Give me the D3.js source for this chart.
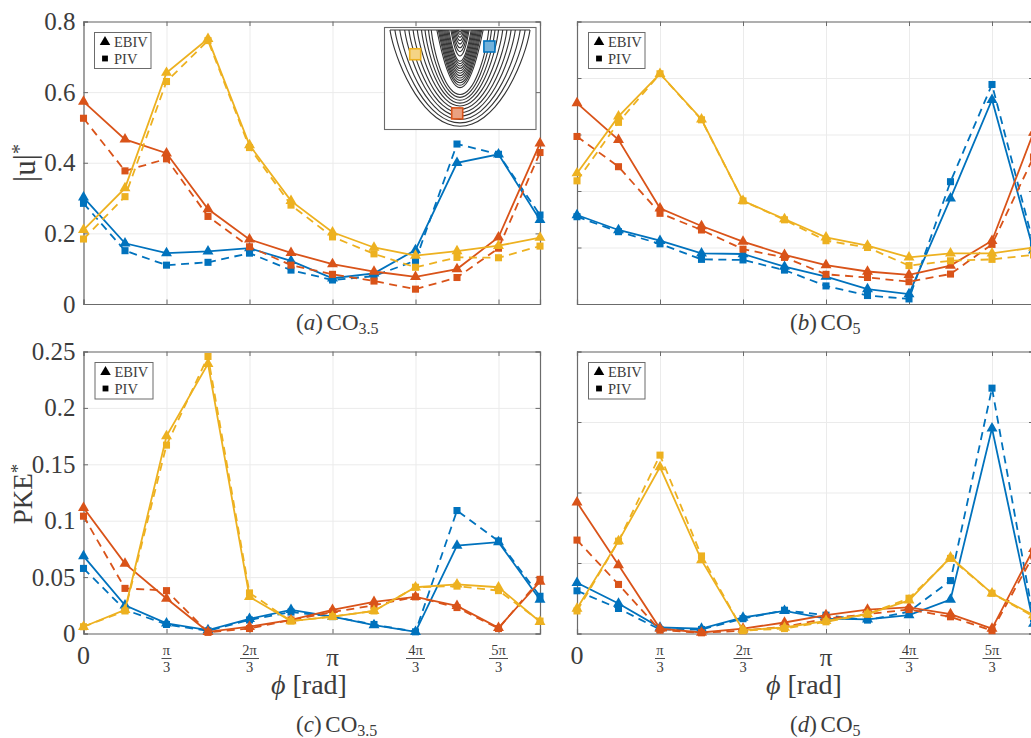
<!DOCTYPE html>
<html>
<head>
<meta charset="utf-8">
<script src="https://cdn.jsdelivr.net/npm/d3@7"></script>
<style>
  html, body { margin: 0; padding: 0; background: #fff; overflow: hidden; }
  svg { display: block; }
  text { font-family: "Liberation Serif", serif; fill: #3c3c3c; }
</style>
</head>
<body>
<svg width="1031" height="738"></svg>
<script>
// Crank angle steps, in units of pi/6
const phiSteps = [0, 1, 2, 3, 4, 5, 6, 7, 8, 9, 10, 11];
const phiTicks = [0, 2, 4, 6, 8, 10];
const phiTickLabels = ["0", "π/3", "2π/3", "π", "4π/3", "5π/3"];

// Panel (a) |u|* CO3.5
const aEbivBlue = [0.302, 0.172, 0.144, 0.149, 0.158, 0.122, 0.073, 0.087, 0.153, 0.400, 0.424, 0.238];
const aEbivRed = [0.573, 0.466, 0.427, 0.269, 0.183, 0.145, 0.113, 0.092, 0.077, 0.099, 0.189, 0.455];
const aEbivYellow = [0.210, 0.328, 0.655, 0.751, 0.450, 0.292, 0.203, 0.160, 0.137, 0.150, 0.165, 0.188];
const aPivBlue = [0.285, 0.151, 0.110, 0.118, 0.144, 0.096, 0.068, 0.079, 0.123, 0.453, 0.424, 0.252];
const aPivRed = [0.526, 0.377, 0.411, 0.248, 0.162, 0.110, 0.084, 0.065, 0.042, 0.075, 0.158, 0.429];
const aPivYellow = [0.184, 0.304, 0.630, 0.746, 0.443, 0.280, 0.190, 0.142, 0.104, 0.132, 0.131, 0.164];

// Panel (b) |u|* CO5
const bEbivBlue = [0.315, 0.262, 0.224, 0.179, 0.177, 0.132, 0.097, 0.053, 0.035, 0.374, 0.723, 0.190];
const bEbivRed = [0.711, 0.581, 0.339, 0.276, 0.221, 0.174, 0.138, 0.115, 0.103, 0.136, 0.224, 0.607];
const bEbivYellow = [0.463, 0.664, 0.815, 0.654, 0.365, 0.301, 0.236, 0.207, 0.165, 0.179, 0.179, 0.200];
const bPivBlue = [0.309, 0.256, 0.213, 0.158, 0.156, 0.120, 0.064, 0.030, 0.018, 0.433, 0.777, 0.213];
const bPivRed = [0.593, 0.486, 0.321, 0.262, 0.194, 0.165, 0.105, 0.094, 0.079, 0.106, 0.211, 0.520];
const bPivYellow = [0.436, 0.643, 0.815, 0.652, 0.365, 0.298, 0.224, 0.200, 0.136, 0.153, 0.158, 0.174];

// Panel (c) PKE* CO3.5
const cEbivBlue = [0.0686, 0.025, 0.009, 0.003, 0.013, 0.021, 0.015, 0.0074, 0.0015, 0.078, 0.081, 0.030];
const cEbivRed = [0.1115, 0.062, 0.031, 0.0015, 0.006, 0.012, 0.021, 0.028, 0.0325, 0.0245, 0.005, 0.046];
const cEbivYellow = [0.006, 0.021, 0.175, 0.239, 0.0325, 0.011, 0.015, 0.020, 0.041, 0.0435, 0.041, 0.0104];
const cPivBlue = [0.0577, 0.021, 0.008, 0.0024, 0.012, 0.019, 0.015, 0.008, 0.0015, 0.109, 0.082, 0.033];
const cPivRed = [0.104, 0.040, 0.038, 0.001, 0.0044, 0.012, 0.019, 0.025, 0.0325, 0.023, 0.0044, 0.048];
const cPivYellow = [0.006, 0.020, 0.167, 0.2456, 0.036, 0.011, 0.015, 0.020, 0.041, 0.042, 0.038, 0.011];

// Panel (d) PKE* CO5
const dEbivBlue = [0.072, 0.0426, 0.0085, 0.007, 0.0227, 0.032, 0.021, 0.020, 0.026, 0.048, 0.291, 0.014];
const dEbivRed = [0.186, 0.097, 0.007, 0.0014, 0.007, 0.0156, 0.026, 0.034, 0.037, 0.0275, 0.007, 0.120];
const dEbivYellow = [0.0355, 0.131, 0.236, 0.104, 0.0047, 0.0085, 0.018, 0.0275, 0.047, 0.108, 0.057, 0.026];
const dPivBlue = [0.0606, 0.0355, 0.0057, 0.0057, 0.021, 0.033, 0.026, 0.019, 0.031, 0.075, 0.348, 0.021];
const dPivRed = [0.1325, 0.0696, 0.0047, 0.001, 0.004, 0.0095, 0.021, 0.0275, 0.034, 0.0237, 0.004, 0.111];
const dPivYellow = [0.032, 0.131, 0.253, 0.110, 0.004, 0.007, 0.0166, 0.0275, 0.050, 0.1065, 0.057, 0.024];

// Y ticks
const uTicks = [0, 0.2, 0.4, 0.6, 0.8];
const uTicksWide = [0, 0.2, 0.4, 0.6, 0.8, 1];
const pkeTicks = [0, 0.05, 0.1, 0.15, 0.2, 0.25];
const pkeTicksWide = [0, 0.1, 0.2, 0.3, 0.4];

// Inset contours: half width and depth of every level, as fraction of the cup
const contourWidths = [1, 0.93, 0.86, 0.79, 0.73, 0.67, 0.61, 0.55, 0.5, 0.45, 0.41,
  0.33, 0.31, 0.295, 0.28, 0.265, 0.25, 0.235, 0.22, 0.205, 0.19, 0.175, 0.16,
  0.13, 0.115, 0.1, 0.085, 0.07, 0.055, 0.04, 0.025];
const contourDepths = [1, 0.965, 0.93, 0.895, 0.86, 0.825, 0.79, 0.76, 0.73, 0.7, 0.67,
  0.6, 0.575, 0.55, 0.525, 0.5, 0.475, 0.45, 0.425, 0.4, 0.375, 0.35, 0.325,
  0.27, 0.225, 0.185, 0.145, 0.11, 0.075, 0.045, 0.02];
const contourAngles = [-90, -80, -70, -60, -50, -40, -30, -20, -10, 0, 10, 20, 30, 40, 50, 60, 70, 80, 90];
const probeNames = ["yellow", "blue", "red"];
const probeX = [-0.64, 0.42, -0.04];
const probeY = [0.25, 0.17, 0.86];

// Colours
const blue = "#0072BD";
const red = "#D95319";
const yellow = "#EDB120";
const axisColor = "#6b6b6b";
const gridColor = "#ebebeb";
const probeColors = { yellow: yellow, blue: blue, red: red };

// Accessing svg element
const svg = d3.select("svg");

// Setting constant widths
const plotWidth = 456.5;
const tickLength = 4.5;
const triangle = d3.symbol().type(d3.symbolTriangle).size(52);
const square = d3.symbol().type(d3.symbolSquare).size(50);

const panels = [
  { left: 83.5, top: 21.5, height: 282.5, ymax: 0.8, ticks: uTicks, yLabels: true, xLabels: false, letter: "a", sub: "3.5", capX: 296, capY: 330,
    legend: [94.5, 32.5, 56.5, 36],
    series: [[aEbivBlue, aPivBlue, blue], [aEbivRed, aPivRed, red], [aEbivYellow, aPivYellow, yellow]] },
  { left: 577, top: 21.5, height: 282.5, ymax: 1, ticks: uTicksWide, yLabels: false, xLabels: false, letter: "b", sub: "5", capX: 790, capY: 330,
    legend: [588.5, 32.5, 56.5, 36],
    series: [[bEbivBlue, bPivBlue, blue], [bEbivRed, bPivRed, red], [bEbivYellow, bPivYellow, yellow]] },
  { left: 83.5, top: 351.5, height: 282, ymax: 0.25, ticks: pkeTicks, yLabels: true, xLabels: true, letter: "c", sub: "3.5", capX: 296, capY: 732,
    legend: [95, 362.5, 58, 36.5],
    series: [[cEbivBlue, cPivBlue, blue], [cEbivRed, cPivRed, red], [cEbivYellow, cPivYellow, yellow]] },
  { left: 577, top: 351.5, height: 282, ymax: 0.4, ticks: pkeTicksWide, yLabels: false, xLabels: true, letter: "d", sub: "5", capX: 790, capY: 732,
    legend: [588.5, 362.5, 56.5, 36.5],
    series: [[dEbivBlue, dPivBlue, blue], [dEbivRed, dPivRed, red], [dEbivYellow, dPivYellow, yellow]] }
];

panels.forEach(renderPanel);
renderInset();

// Y axis titles
const uTitle = svg.append("text")
  .attr("transform", "translate(35,163) rotate(-90)")
  .attr("text-anchor", "middle")
  .style("font-size", "31px");
uTitle.append("tspan").text("|u|");
uTitle.append("tspan").text("*").attr("dy", -9).style("font-size", "20px");

const pkeTitle = svg.append("text")
  .attr("transform", "translate(32,494) rotate(-90)")
  .attr("text-anchor", "middle")
  .style("font-size", "27px");
pkeTitle.append("tspan").text("PKE");
pkeTitle.append("tspan").text("*").attr("dy", -8).style("font-size", "19px");

// X axis titles
[309, 804].forEach(x => {
  const title = svg.append("text")
    .attr("x", x)
    .attr("y", 694)
    .attr("text-anchor", "middle")
    .style("font-size", "28px");
  title.append("tspan").text("ϕ").style("font-style", "italic");
  title.append("tspan").text(" [rad]");
});

// Panel Renderer Function
function renderPanel(panel) {
  const xScale = d3.scaleLinear().domain([0, 11]).range([0, plotWidth]);
  const yScale = d3.scaleLinear().domain([0, panel.ymax]).range([panel.height, 0]);

  const g = svg.append("g").attr("transform", `translate(${panel.left},${panel.top})`);

  // Grid first, so that everything else sits on top
  g.append("g")
    .attr("class", "grid")
    .call(d3.axisLeft(yScale).tickValues(panel.ticks).tickSize(-plotWidth).tickFormat(""))
    .call(a => a.select(".domain").remove())
    .selectAll("line").attr("stroke", gridColor);
  g.append("g")
    .attr("class", "grid")
    .attr("transform", `translate(0,${panel.height})`)
    .call(d3.axisBottom(xScale).tickValues(phiTicks).tickSize(-panel.height).tickFormat(""))
    .call(a => a.select(".domain").remove())
    .selectAll("line").attr("stroke", gridColor);

  // Box with inward ticks on all four sides
  const yAxis = d3.axisLeft(yScale).tickValues(panel.ticks).tickSize(-tickLength).tickPadding(8)
    .tickFormat(d => panel.yLabels ? d3.format("~g")(d) : "");
  const left = g.append("g").call(yAxis);
  left.selectAll("text").style("font-size", "25px").style("font-family", '"Liberation Serif", serif').attr("fill", "#3c3c3c");

  const right = g.append("g")
    .attr("transform", `translate(${plotWidth},0)`)
    .call(d3.axisRight(yScale).tickValues(panel.ticks).tickSize(-tickLength).tickFormat(""));
  const bottom = g.append("g")
    .attr("transform", `translate(0,${panel.height})`)
    .call(d3.axisBottom(xScale).tickValues(phiTicks).tickSize(-tickLength).tickFormat(""));
  const top = g.append("g")
    .call(d3.axisTop(xScale).tickValues(phiTicks).tickSize(-tickLength).tickFormat(""));

  [left, right, bottom, top].forEach(a => {
    a.selectAll("line").attr("stroke", axisColor);
    a.select(".domain").attr("stroke", axisColor).attr("stroke-width", 1.2);
  });

  if (panel.xLabels) {
    phiTicks.forEach((t, i) => renderPhiLabel(g, xScale(t), panel.height, phiTickLabels[i]));
  }

  // Lines and markers, EBIV solid with triangles and PIV dashed with squares
  const line = d3.line().x((d, i) => xScale(phiSteps[i])).y(d => yScale(d));
  panel.series.forEach(s => {
    const color = s[2];
    g.append("path")
      .datum(s[0])
      .attr("d", line)
      .attr("fill", "none")
      .attr("stroke", color)
      .attr("stroke-width", 1.8);
    g.append("path")
      .datum(s[1])
      .attr("d", line)
      .attr("fill", "none")
      .attr("stroke", color)
      .attr("stroke-width", 1.8)
      .attr("stroke-dasharray", "8,5.5");
    g.selectAll(null)
      .data(s[0])
      .enter()
      .append("path")
      .attr("d", triangle)
      .attr("transform", (d, i) => `translate(${xScale(phiSteps[i])},${yScale(d)})`)
      .attr("fill", color);
    g.selectAll(null)
      .data(s[1])
      .enter()
      .append("path")
      .attr("d", square)
      .attr("transform", (d, i) => `translate(${xScale(phiSteps[i])},${yScale(d)})`)
      .attr("fill", color);
  });

  renderLegend(panel.legend);
  renderCaption(panel);
}

// Tick labels under the x axis, plain or stacked as a fraction
function renderPhiLabel(g, x, y, label) {
  if (label.indexOf("/") < 0) {
    g.append("text")
      .text(label)
      .attr("x", x)
      .attr("y", y + (label === "0" ? 30 : 32))
      .attr("text-anchor", "middle")
      .style("font-size", label === "0" ? "26px" : "25px");
    return;
  }
  const parts = label.split("/");
  g.append("text")
    .text(parts[0])
    .attr("x", x)
    .attr("y", y + 21.5)
    .attr("text-anchor", "middle")
    .style("font-size", "14.5px");
  g.append("line")
    .attr("x1", x - (parts[0].length > 1 ? 9.5 : 5))
    .attr("x2", x + (parts[0].length > 1 ? 9.5 : 5))
    .attr("y1", y + 25)
    .attr("y2", y + 25)
    .attr("stroke", "#3c3c3c")
    .attr("stroke-width", 0.9);
  g.append("text")
    .text(parts[1])
    .attr("x", x)
    .attr("y", y + 38.5)
    .attr("text-anchor", "middle")
    .style("font-size", "14.5px");
}

// Legend box
function renderLegend(box) {
  const legend = svg.append("g").attr("transform", `translate(${box[0]},${box[1]})`);
  legend.append("rect")
    .attr("width", box[2])
    .attr("height", box[3])
    .attr("fill", "#fff")
    .attr("stroke", axisColor)
    .attr("stroke-width", 1);
  legend.append("path")
    .attr("d", d3.symbol().type(d3.symbolTriangle).size(48))
    .attr("transform", "translate(10.5,9.5)")
    .attr("fill", "#000");
  legend.append("path")
    .attr("d", d3.symbol().type(d3.symbolSquare).size(34))
    .attr("transform", "translate(10.5,26)")
    .attr("fill", "#000");
  legend.append("text").text("EBIV").attr("x", 19.5).attr("y", 14.5).style("font-size", "14.5px");
  legend.append("text").text("PIV").attr("x", 19.5).attr("y", 31).style("font-size", "14.5px");
}

// Caption under each panel
function renderCaption(panel) {
  const caption = svg.append("text")
    .attr("x", panel.capX)
    .attr("y", panel.capY)
    .style("font-size", "23px");
  caption.append("tspan").text("(");
  caption.append("tspan").text(panel.letter).style("font-style", "italic");
  caption.append("tspan").text(") CO").style("word-spacing", "-2px");
  caption.append("tspan").text(panel.sub).attr("dy", 4).style("font-size", "16px");
}

// Small picture of the streamlines in the cylinder, top right of panel (a)
function renderInset() {
  const inset = svg.append("g");
  inset.append("rect")
    .attr("x", 384.5)
    .attr("y", 27.5)
    .attr("width", 151.5)
    .attr("height", 102)
    .attr("fill", "#fff")
    .attr("stroke", axisColor)
    .attr("stroke-width", 1.1);

  const insetX = d3.scaleLinear().domain([-1, 1]).range([390, 530]);
  const insetY = d3.scaleLinear().domain([0, 1]).range([30, 127]);
  const contour = d3.line().curve(d3.curveBasis).x(d => insetX(d[0])).y(d => insetY(d[1]));

  contourWidths.forEach((w, i) => {
    const depth = contourDepths[i];
    // Outer levels follow the cup, inner levels are parabolas
    const power = i < 11 ? 1.55 : 2;
    const pts = contourAngles.map(a => {
      const r = a * Math.PI / 180;
      return [w * Math.sin(r), depth * Math.pow(Math.cos(r), power)];
    });
    inset.append("path")
      .attr("d", contour(pts))
      .attr("fill", "none")
      .attr("stroke", "#333")
      .attr("stroke-width", 1.1);
  });

  // Flat top of the cup
  inset.append("line")
    .attr("x1", insetX(-1))
    .attr("x2", insetX(1))
    .attr("y1", insetY(0))
    .attr("y2", insetY(0))
    .attr("stroke", "#333")
    .attr("stroke-width", 1.1);

  // Probe windows
  probeNames.forEach((name, i) => {
    inset.append("rect")
      .attr("x", insetX(probeX[i]) - 5.5)
      .attr("y", insetY(probeY[i]) - 5.5)
      .attr("width", 11)
      .attr("height", 11)
      .attr("fill", "#fff")
      .attr("stroke", "none");
    inset.append("rect")
      .attr("x", insetX(probeX[i]) - 5.5)
      .attr("y", insetY(probeY[i]) - 5.5)
      .attr("width", 11)
      .attr("height", 11)
      .attr("fill", probeColors[name])
      .attr("fill-opacity", 0.55)
      .attr("stroke", probeColors[name])
      .attr("stroke-width", 1.6);
  });
}
</script>
</body>
</html>
